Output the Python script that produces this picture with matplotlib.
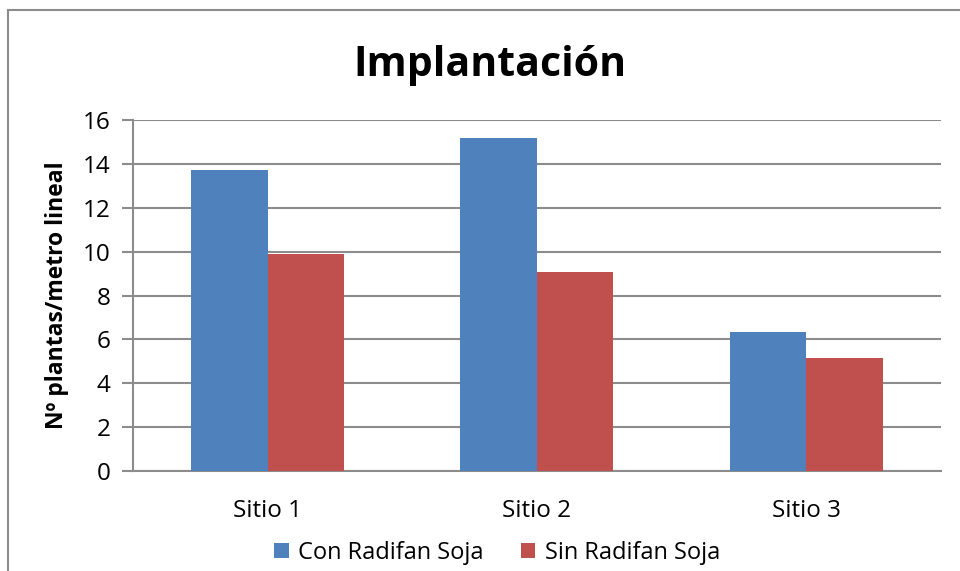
import matplotlib.pyplot as plt
import numpy as np
from matplotlib.lines import Line2D

plt.rcParams['font.family'] = ['Open Sans', 'DejaVu Sans']

sitios = ['Sitio 1', 'Sitio 2', 'Sitio 3']
con_radifan = [13.7, 15.2, 6.35]
sin_radifan = [9.9, 9.05, 5.15]
series_names = ['Con Radifan Soja', 'Sin Radifan Soja']
yticks = [0, 2, 4, 6, 8, 10, 12, 14, 16]

fig = plt.figure(figsize=(9.6, 5.71), dpi=100)
ax = fig.add_axes([0.1385, 0.1751, 0.8417, 0.6147])

# chart border (only left and top visible)
fig.add_artist(Line2D([8/960, 8/960], [0, 1 - 10/571], color='#8c8c8c', lw=1.5))
fig.add_artist(Line2D([8/960, 1], [1 - 10/571, 1 - 10/571], color='#8c8c8c', lw=1.5))

x = np.arange(len(sitios))
w = 0.284
ax.bar(x - w/2, con_radifan, w, color='#4F81BD', label=series_names[0], zorder=3)
ax.bar(x + w/2, sin_radifan, w, color='#C0504D', label=series_names[1], zorder=3)

ax.set_xlim(-0.5, 2.5)
ax.set_ylim(0, 16)
ax.set_yticks(yticks)
ax.set_xticks(x)
ax.set_xticklabels(sitios, fontsize=17.5)
ax.tick_params(axis='y', labelsize=17.5, length=8, width=1.5, color='#8c8c8c', pad=8)
ax.tick_params(axis='x', length=0, pad=20)
ax.grid(axis='y', color='#8c8c8c', lw=1.5, zorder=0)
for s in ['top', 'right']:
    ax.spines[s].set_visible(False)
for s in ['left', 'bottom']:
    ax.spines[s].set_color('#8c8c8c')
    ax.spines[s].set_linewidth(1.5)

ax.set_ylabel('Nº plantas/metro lineal', fontsize=16.5, fontweight='bold', labelpad=10)
fig.text(0.51, 0.886, 'Implantación', ha='center', va='center', fontsize=29.5, fontweight='bold')

fig.legend(loc='center', bbox_to_anchor=(0.518, 0.032), ncol=2, frameon=False,
           fontsize=17, handlelength=0.6, handleheight=0.6, columnspacing=1.6, handletextpad=0.4)

fig.savefig('out.png', dpi=100)
